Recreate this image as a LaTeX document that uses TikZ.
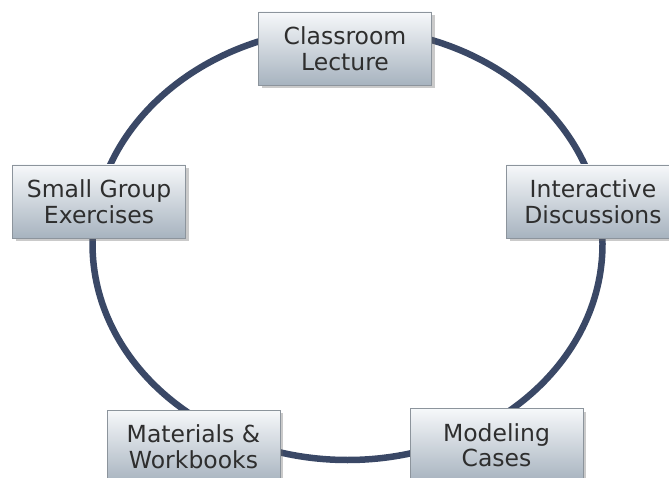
\documentclass[tikz,border=0pt]{standalone}
\usepackage{fontspec}
\setmainfont{DejaVu Sans}
\usetikzlibrary{shadows}
\definecolor{ringc}{HTML}{3A4866}
\definecolor{boxtop}{HTML}{F6F8FA}
\definecolor{boxbot}{HTML}{A7B3BF}
\definecolor{boxline}{HTML}{8C949C}
\definecolor{txt}{HTML}{2E2E2E}
\tikzset{
  stagebox/.style={rectangle, draw=boxline, line width=0.8pt,
    top color=boxtop, bottom color=boxbot,
    minimum width=173pt, minimum height=73pt, inner sep=0pt,
    align=center, text=txt,
    font=\fontsize{23.5}{25.5}\selectfont,
    drop shadow={shadow xshift=3pt, shadow yshift=-3pt, opacity=0.35, fill=black!60}},
  ring/.style={draw=ringc, line width=6.5pt}
}
\begin{document}
\begin{tikzpicture}[x=1pt,y=-1pt]
\useasboundingbox (0,0) rectangle (669,478);
\clip (0,0) rectangle (669,478);
\draw[ring] (347.5,244) ellipse [x radius=255, y radius=216];
\node[stagebox] (lecture) at (345,48.5) {Classroom\\Lecture};
\node[stagebox] (small) at (99,201.5) {Small Group\\Exercises};
\node[stagebox] (inter) at (593,201.5) {Interactive\\Discussions};
\node[stagebox] (mat) at (193.5,446.5) {Materials \&\\Workbooks};
\node[stagebox] (model) at (496.5,445) {Modeling\\Cases};
\end{tikzpicture}
\end{document}
